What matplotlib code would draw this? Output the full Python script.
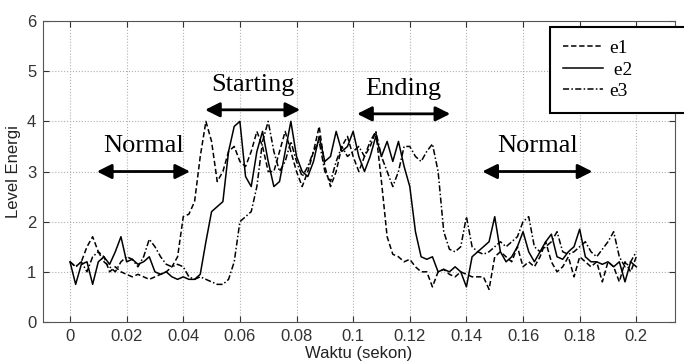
import numpy as np
import matplotlib
matplotlib.use('Agg')
from matplotlib import pyplot as plt
from matplotlib.lines import Line2D

# waktu sampel (detik), tiap 2 ms
waktu = np.round(np.arange(0, 0.2001, 0.002), 3)

e1 = [1.2, 1.1, 1.2, 1.5, 1.7, 1.4, 1.3, 1.0, 1.1, 1.0,
      0.95, 0.9, 0.95, 0.9, 0.85, 0.9, 0.95, 1.0, 1.1, 1.3,
      2.1, 2.15, 2.4, 3.3, 4.0, 3.6, 2.8, 3.0, 3.4, 3.5,
      3.2, 3.1, 3.4, 3.8, 3.5, 3.0, 3.0, 3.4, 3.8, 3.4,
      3.0, 2.7, 3.0, 3.4, 3.9, 3.1, 2.7, 3.0, 3.5, 3.7,
      3.3, 3.0, 3.3, 3.5, 3.8, 2.8, 1.7, 1.35, 1.3, 1.2,
      1.25, 1.1, 1.0, 1.0, 0.7, 1.0, 1.05, 0.95, 0.9, 1.0,
      0.95, 0.9, 0.9, 0.9, 0.65, 1.3, 1.4, 1.3, 1.2, 1.5,
      1.1, 1.2, 1.1, 1.3, 1.6, 1.2, 1.0, 1.1, 1.3, 0.9,
      1.3, 1.2, 1.1, 1.2, 0.8, 1.2, 1.1, 0.8, 1.2, 1.0,
      1.3]

e2 = [1.2, 0.75, 1.15, 1.2, 0.75, 1.2, 1.3, 1.15, 1.4, 1.7,
      1.2, 1.25, 1.15, 1.2, 1.3, 1.0, 0.95, 1.0, 0.9, 0.85,
      0.9, 0.85, 0.85, 0.95, 1.6, 2.2, 2.3, 2.4, 3.4, 3.9,
      4.0, 2.9, 2.7, 3.4, 3.8, 3.2, 2.7, 2.8, 3.4, 4.0,
      3.3, 3.0, 2.9, 3.2, 3.7, 3.2, 3.3, 3.8, 3.4, 3.5,
      3.8, 3.3, 3.0, 3.3, 3.7, 3.3, 3.6, 3.2, 3.6, 3.1,
      2.7, 1.8, 1.3, 1.25, 1.3, 1.0, 1.05, 1.0, 1.1, 1.0,
      0.7, 1.3, 1.4, 1.5, 1.6, 2.1, 1.4, 1.2, 1.3, 1.5,
      1.8, 1.4, 1.2, 1.4, 1.6, 1.75, 1.3, 1.25, 1.4, 1.5,
      1.85, 1.3, 1.2, 1.2, 1.15, 1.2, 1.1, 1.2, 0.8, 1.2,
      1.1]

e3 = [1.2, 1.1, 1.2, 1.0, 1.3, 1.4, 1.2, 1.1, 1.0, 1.2,
      1.3, 1.25, 1.1, 1.3, 1.65, 1.5, 1.3, 1.15, 1.1, 1.15,
      1.1, 0.9, 0.85, 0.9, 0.85, 0.8, 0.75, 0.75, 0.85, 1.2,
      2.0, 2.1, 2.2, 2.7, 3.6, 4.0, 3.4, 3.0, 3.2, 3.6,
      3.2, 2.9, 3.1, 3.4, 3.6, 3.0, 2.8, 3.2, 3.5, 3.3,
      3.4, 3.5, 3.3, 3.6, 3.8, 3.3, 3.0, 2.7, 3.0, 3.5,
      3.5, 3.3, 3.2, 3.4, 3.55, 3.0, 1.8, 1.45, 1.4, 1.5,
      2.1, 1.5, 1.4, 1.35, 1.4, 1.5, 1.6, 1.5, 1.6, 1.7,
      2.0, 2.1, 1.5, 1.4, 1.5, 1.6, 1.8, 1.4, 1.35, 1.4,
      1.5, 1.6, 1.4, 1.3, 1.45, 1.6, 1.8, 1.3, 1.1, 1.2,
      1.4]

# fase: (label, x kiri, x kanan, y panah)
fase = [("Normal", 0.0095, 0.0424, 3.0),
        ("Starting", 0.0477, 0.0813, 4.23),
        ("Ending", 0.1014, 0.1343, 4.15),
        ("Normal", 0.1456, 0.1845, 3.0)]

xticks = [0, 0.02, 0.04, 0.06, 0.08, 0.1, 0.12, 0.14, 0.16, 0.18, 0.2]
xticklabels = ["0", "0.02", "0.04", "0.06", "0.08", "0.1", "0.12", "0.14", "0.16", "0.18", "0.2"]

plt.rcParams['font.family'] = ['Liberation Sans', 'DejaVu Sans']

fig = plt.figure(figsize=(6.84, 3.63), dpi=100)
ax = fig.add_axes([0.063, 0.113, 0.924, 0.829])

gaya = [(0, (3.5, 1.8)), '-', (0, (4, 1.5, 1, 1.5))]
for seri, ls in zip([e1, e2, e3], gaya):
    ax.plot(waktu, seri, color='k', lw=1.1, ls=ls)

ax.set_xlim(-0.0095, 0.2137)
ax.set_ylim(0, 6)
ax.set_xticks(xticks)
ax.set_xticklabels(xticklabels)
ax.set_yticks(range(7))
ax.grid(True, ls=':', color='#b0b0b0', lw=0.8)
ax.tick_params(direction='in', top=True, right=True, labelsize=12,
               colors='#333333', length=4, pad=5)
for s in ax.spines.values():
    s.set_color('#555555')
    s.set_linewidth(0.8)

ax.set_xlabel("Waktu (sekon)", fontsize=12, color='#222222', labelpad=1.5)
ax.set_ylabel("Level Energi", fontsize=12, color='#222222', labelpad=4)

for nama, xa, xb, ya in fase:
    ax.annotate("", xy=(xa, ya), xytext=(xb, ya),
                arrowprops=dict(arrowstyle='<|-|>', color='k', lw=2,
                                mutation_scale=22, shrinkA=0, shrinkB=0))
    ax.text((xa + xb) / 2, ya + 0.28, nama, ha='center', va='bottom',
            fontsize=19, family='Liberation Serif')

handles = [Line2D([], [], color='k', lw=1.1, ls=ls) for ls in gaya]
leg = fig.legend(handles, ["e1", " e2", "e3"], loc='upper left',
                 bbox_to_anchor=(550 / 684, 1 - 27 / 363, 0.45, 0.0),
                 mode='expand', fancybox=False, framealpha=1,
                 edgecolor='k', prop={'family': 'Liberation Serif', 'size': 14},
                 handlelength=2.1, handletextpad=0.3, labelspacing=0.2,
                 borderpad=0.65, borderaxespad=0)
leg.get_frame().set_linewidth(1.5)

fig.savefig("out.png", dpi=100)
